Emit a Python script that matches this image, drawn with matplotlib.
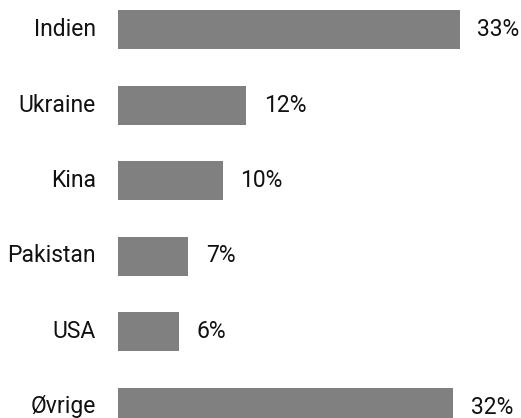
import matplotlib
matplotlib.use('Agg')
import matplotlib.pyplot as plt

countries = ['Indien', 'Ukraine', 'Kina', 'Pakistan', 'USA', 'Øvrige']
shares = [32.9, 12.4, 10.1, 6.8, 5.9, 32.3]
share_labels = ['33%', '12%', '10%', '7%', '6%', '32%']

plt.rcParams['font.family'] = ['Roboto', 'DejaVu Sans']

W, H = 521, 418
px_per_unit_x = 10.4
px_per_row = 75.5
x0_px = 117.5
y0_px = 29.5

fig = plt.figure(figsize=(W / 100, H / 100), dpi=100)
ax = fig.add_axes([0, 0, 1, 1])

positions = list(range(len(countries)))
ax.barh(positions, shares, height=39 / px_per_row, color='#808080', edgecolor='none')

ax.set_xlim(-x0_px / px_per_unit_x, (W - x0_px) / px_per_unit_x)
ax.set_ylim((H - y0_px) / px_per_row, -y0_px / px_per_row)
ax.axis('off')

for pos, name, val, lab in zip(positions, countries, shares, share_labels):
    ax.text(-21.5 / px_per_unit_x, pos, name, ha='right', va='center',
            fontsize=16.5, color='#111111')
    ax.text(val + 17.5 / px_per_unit_x, pos, lab, ha='left', va='center',
            fontsize=16.5, color='#111111')

fig.savefig('out.png', dpi=100)
